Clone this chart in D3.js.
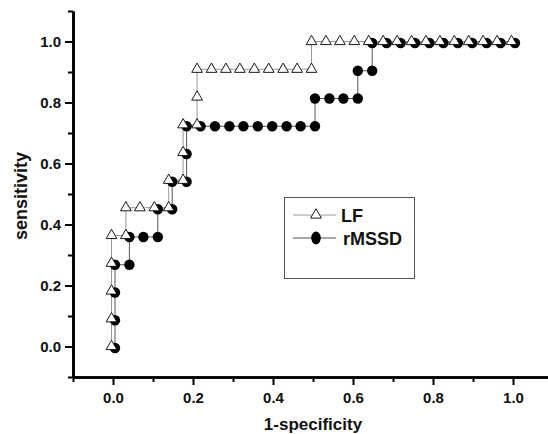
<!DOCTYPE html>
<html><head><meta charset="utf-8">
<script src="https://cdn.jsdelivr.net/npm/d3@7"></script>
<style>
html,body{margin:0;padding:0;background:#fff;}
svg{display:block;font-family:"Liberation Sans",Arial,sans-serif;}
</style></head>
<body><svg id="c" width="548" height="434"></svg>
<script>
// ---- data ----
const lfX = [0,0,0,0,0,0.036,0.036,0.071,0.107,0.143,0.143,0.179,0.179,0.179,0.214,0.214,0.214,0.25,0.286,0.321,0.357,0.393,0.429,0.464,0.5,0.5,0.536,0.571,0.607,0.643,0.679,0.714,0.75,0.786,0.821,0.857,0.893,0.929,0.964,1.0];
const lfY = [0,0.091,0.182,0.273,0.364,0.364,0.455,0.455,0.455,0.455,0.545,0.545,0.636,0.727,0.727,0.818,0.909,0.909,0.909,0.909,0.909,0.909,0.909,0.909,0.909,1,1,1,1,1,1,1,1,1,1,1,1,1,1,1];
const rmX = [0,0,0,0,0.036,0.036,0.071,0.107,0.107,0.143,0.143,0.179,0.179,0.179,0.214,0.25,0.286,0.321,0.357,0.393,0.429,0.464,0.5,0.5,0.536,0.571,0.607,0.607,0.643,0.643,0.679,0.714,0.75,0.786,0.821,0.857,0.893,0.929,0.964,1.0];
const rmY = [0,0.091,0.182,0.273,0.273,0.364,0.364,0.364,0.455,0.455,0.545,0.545,0.636,0.727,0.727,0.727,0.727,0.727,0.727,0.727,0.727,0.727,0.727,0.818,0.818,0.818,0.818,0.909,0.909,1,1,1,1,1,1,1,1,1,1,1];
const majorTicks = [0,0.2,0.4,0.6,0.8,1.0];
const minorTicks = [-0.1,0.1,0.3,0.5,0.7,0.9,1.1];
const seriesNames = ["LF","rMSSD"];
const xTitle = "1-specificity", yTitle = "sensitivity";

// ---- layout ----
const svg = d3.select("#c");
const x = d3.scaleLinear().domain([-0.1,1.1]).range([73,553]);
const y = d3.scaleLinear().domain([-0.1,1.1]).range([377,11]);
const fmt = d3.format(".1f");
const nudge = {lf:[-1.5,0], rm:[2,1.5]};

svg.append("rect").attr("width",548).attr("height",434).attr("fill","#fff");

function styleAxis(g){
  g.select(".domain").attr("stroke","#000").attr("stroke-width",2.6);
  g.selectAll(".tick line").attr("stroke","#000").attr("stroke-width",2);
  g.selectAll(".tick text").attr("fill","#111").attr("font-size",15).attr("font-weight","bold");
}
// x axis
const gx = svg.append("g").attr("transform","translate(0,377)");
gx.call(d3.axisBottom(x).tickValues(majorTicks).tickSize(8).tickPadding(7).tickSizeOuter(0).tickFormat(fmt));
styleAxis(gx);
const gxm = svg.append("g").attr("transform","translate(0,377)");
gxm.call(d3.axisBottom(x).tickValues(minorTicks).tickSize(5).tickSizeOuter(0).tickFormat(""));
styleAxis(gxm);
// y axis
const gy = svg.append("g").attr("transform","translate(73,0)");
gy.call(d3.axisLeft(y).tickValues(majorTicks).tickSize(8).tickPadding(4).tickSizeOuter(0).tickFormat(fmt));
styleAxis(gy);
const gym = svg.append("g").attr("transform","translate(73,0)");
gym.call(d3.axisLeft(y).tickValues(minorTicks).tickSize(5).tickSizeOuter(0).tickFormat(""));
styleAxis(gym);

// titles
svg.append("text").attr("x",313).attr("y",430).attr("text-anchor","middle")
  .attr("font-size",17).attr("font-weight","bold").attr("fill","#111").text(xTitle);
svg.append("text").attr("transform","translate(27,196) rotate(-90)").attr("text-anchor","middle")
  .attr("font-size",18).attr("font-weight","bold").attr("fill","#111").text(yTitle);

// data
const lf = lfX.map((v,i)=>({x:v,y:lfY[i]}));
const rm = rmX.map((v,i)=>({x:v,y:rmY[i]}));
const line = d3.line().x(d=>x(d.x)).y(d=>y(d.y));

svg.append("path").datum(rm).attr("d",line).attr("fill","none").attr("stroke","#555").attr("stroke-width",1)
  .attr("transform",`translate(${nudge.rm})`);
svg.append("path").datum(lf).attr("d",line).attr("fill","none").attr("stroke","#999").attr("stroke-width",1)
  .attr("transform",`translate(${nudge.lf})`);

svg.append("g").attr("transform",`translate(${nudge.rm})`).selectAll("circle").data(rm).join("circle")
  .attr("cx",d=>x(d.x)).attr("cy",d=>y(d.y)).attr("r",5.2).attr("fill","#000");

const tri = d3.symbol().type(d3.symbolTriangle).size(50);
svg.append("g").attr("transform",`translate(${nudge.lf})`).selectAll("path").data(lf).join("path")
  .attr("d",tri).attr("transform",d=>`translate(${x(d.x)},${y(d.y)})`)
  .attr("fill","#fff").attr("stroke","#000").attr("stroke-width",0.9);

// legend
const lg = svg.append("g");
lg.append("rect").attr("x",284.5).attr("y",197.5).attr("width",130).attr("height",81)
  .attr("fill","#fff").attr("stroke","#555").attr("stroke-width",1);
lg.append("line").attr("x1",293).attr("x2",336).attr("y1",215).attr("y2",215).attr("stroke","#999").attr("stroke-width",1);
lg.append("path").attr("d",tri).attr("transform","translate(316,215)").attr("fill","#fff").attr("stroke","#000").attr("stroke-width",0.9);
lg.append("line").attr("x1",293).attr("x2",336).attr("y1",238).attr("y2",238).attr("stroke","#555").attr("stroke-width",1);
lg.append("ellipse").attr("cx",316).attr("cy",238).attr("rx",4.8).attr("ry",6.5).attr("fill","#000");
lg.selectAll("text.lg").data(seriesNames).join("text").attr("class","lg")
  .attr("x",(d,i)=>i?343:341).attr("y",(d,i)=>i?245:222)
  .attr("font-size",18).attr("font-weight","bold").attr("fill","#111").text(d=>d);
</script></body></html>
